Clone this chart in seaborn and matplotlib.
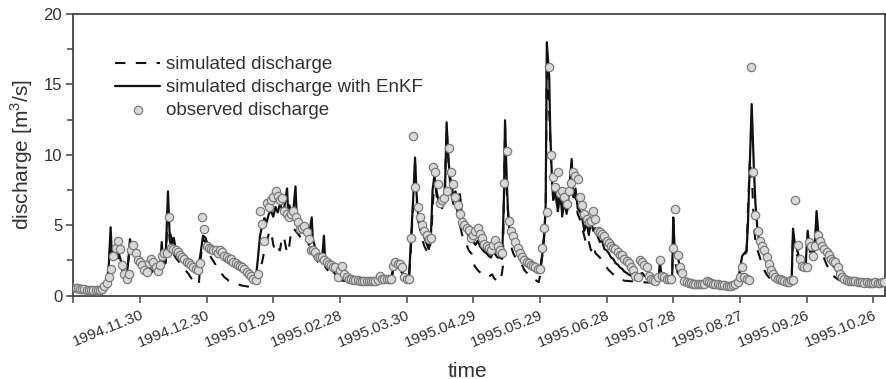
import numpy as np
import pandas as pd
import seaborn as sns
import matplotlib.pyplot as plt
from matplotlib.ticker import MultipleLocator

# ---------------- data (days since 1994-10-31) ----------------
obs_q = [
    0.55, 0.5, 0.5, 0.45, 0.45, 0.45, 0.4, 0.4, 0.4, 0.4,
    0.4, 0.4, 0.4, 0.45, 0.7, 0.9, 1.3, 1.85, 2.8, 3.4,
    3.85, 3.3, 2.2, 1.55, 1.2, 1.5, 3.25, 3.6, 3.0, 2.55,
    2.35, 2.2, 1.8, 1.7, 2.3, 2.6, 2.4, 2.0, 1.75, 2.2,
    2.8, 3.0, 3.0, 5.6, 3.4, 3.3, 3.2, 3.1, 2.9, 2.7,
    2.6, 2.4, 2.3, 2.2, 2.0, 1.9, 1.8, 2.3, 5.6, 4.75,
    3.55, 3.4, 3.3, 3.25, 3.2, 3.0, 3.2, 3.1, 2.8, 2.7,
    2.6, 2.6, 2.4, 2.3, 2.2, 2.1, 2.0, 1.9, 1.7, 1.5,
    1.4, 1.2, 1.1, 1.5, 6.0, 5.1, 3.9, 6.6, 6.3, 6.75,
    7.0, 7.45, 7.1, 6.75, 6.9, 6.0, 5.8, 5.55, 5.8, 6.0,
    5.55, 5.2, 4.7, 4.8, 4.95, 4.5, 4.0, 3.2, 3.2, 3.1,
    2.7, 2.7, 2.7, 2.5, 2.4, 2.25, 2.2, 2.0, 2.0, 1.3,
    1.8, 2.1, 1.55, 1.3, 1.2, 1.15, 1.1, 1.1, 1.1, 1.05,
    1.05, 1.05, 1.0, 1.0, 1.0, 1.0, 1.05, 1.1, 1.4, 1.2,
    1.15, 1.15, 1.2, 1.2, 2.1, 2.35, 2.25, 2.25, 2.0, 1.3,
    1.2, 1.2, 4.1, 11.3, 7.7, 6.3, 5.55, 5.0, 4.6, 4.3,
    4.0, 4.06, 9.1, 8.75, 7.9, 6.6, 6.8, 6.9, 7.4, 10.5,
    8.8, 7.9, 7.0, 6.4, 5.8, 5.2, 5.0, 4.8, 4.65, 4.1,
    4.3, 4.6, 4.8, 4.4, 4.1, 3.65, 3.5, 3.4, 3.2, 3.6,
    3.95, 3.55, 3.2, 3.0, 8.0, 10.3, 5.3, 4.6, 4.2, 3.8,
    3.4, 3.0, 2.7, 2.5, 2.4, 2.3, 2.2, 2.1, 2.0, 1.9,
    1.9, 3.4, 4.8, 5.9, 16.2, 10.0, 8.4, 7.7, 8.75, 7.3,
    7.45, 7.0, 6.5, 7.45, 8.0, 8.8, 8.5, 8.3, 7.0, 6.4,
    5.8, 5.45, 5.2, 5.3, 6.0, 5.45, 4.6, 4.5, 4.4, 4.2,
    3.9, 3.7, 3.55, 3.4, 3.3, 3.1, 2.9, 2.85, 2.6, 2.45,
    2.3, 2.0, 1.8, 1.4, 1.3, 2.5, 2.4, 2.2, 2.0, 1.4,
    1.2, 1.1, 1.05, 1.3, 2.5, 1.4, 1.3, 1.2, 1.2, 1.2,
    3.4, 6.15, 2.85, 2.0, 1.6, 1.0, 0.95, 0.9, 0.9, 0.85,
    0.85, 0.85, 0.8, 0.8, 0.85, 1.0, 0.95, 0.9, 0.85, 0.8,
    0.8, 0.75, 0.75, 0.75, 0.7, 0.7, 0.7, 0.75, 0.85, 0.95,
    1.3, 2.0, 1.3, 1.15, 1.1, 16.2, 8.8, 5.75, 4.6, 3.9,
    3.55, 3.2, 2.7, 2.25, 1.8, 1.55, 1.3, 1.2, 1.15, 1.1,
    1.0, 0.95, 0.95, 1.1, 1.1, 6.75, 3.6, 2.6, 2.1, 2.0,
    2.0, 3.8, 3.5, 2.8, 3.5, 4.3, 3.9, 3.5, 3.3, 3.1,
    2.85, 2.6, 2.45, 2.35, 2.0, 1.55, 1.3, 1.15, 1.1, 1.05,
    1.0, 1.0, 1.0, 0.95, 0.95, 0.95, 0.9, 0.95, 0.9, 0.9,
    0.9, 0.95, 0.9, 0.9, 0.95, 0.95,
]
obs_day = list(range(len(obs_q)))

enkf_day = [
    0, 14, 15, 16, 16.8, 17.4, 18, 19, 20, 21, 22, 23, 24, 24.8, 25.5, 26.2, 27, 28, 29, 30,
    31, 32, 33, 34, 35, 36, 37, 38, 39, 39.8, 40.5, 41.5, 42.6, 43.3, 44, 44.6, 45.2, 46, 47, 48,
    49, 50, 51, 52, 53, 54, 55, 56, 57.3, 58.4, 59.5, 60.5, 62, 64, 66, 68, 70, 72, 74, 76,
    78, 80, 81, 82, 83, 84, 85, 86, 87, 88, 89, 90, 91, 92, 93, 94, 95, 96.2, 96.7, 97.3,
    98, 99, 100, 100.5, 101, 102, 103, 104, 105, 106, 107.3, 107.8, 108.5, 109, 110, 111, 112, 112.8, 113.3, 114,
    115, 116, 117, 118, 119, 120, 121, 125, 137, 138, 139, 143, 144, 145, 147, 148, 149, 151, 152, 153,
    153.8, 154.5, 155, 156, 157, 158, 159, 160, 161, 161.7, 162.5, 163.5, 164.5, 165.5, 166.5, 167.3, 168, 168.8, 169.5, 170.3,
    171, 172, 173, 174, 175, 176, 177, 178, 179, 180, 181, 182, 183, 184, 185, 186, 187, 188, 189, 190,
    191, 192, 193, 193.8, 194.3, 195, 195.5, 196, 197, 198, 199, 200, 201, 202, 203, 204, 205, 206, 207, 208,
    209, 210, 211, 212, 212.6, 213.1, 214.2, 214.6, 215, 215.5, 216, 217, 218, 219, 220, 221, 222, 223, 224.3, 225,
    226, 227, 228, 229, 230, 231, 232, 233, 234, 235, 236, 237, 238, 239, 240, 241, 242, 243, 244, 245,
    246, 247, 248, 249, 250, 251, 252, 253, 254, 255, 256, 257, 258, 259, 262, 263.5, 264, 264.6, 266, 269.5,
    270, 270.6, 271.5, 272.5, 273.5, 274.5, 276, 280, 284, 285, 286, 290, 297, 299, 300, 301, 302, 303, 303.6, 305.3,
    306.3, 307, 308, 309, 310, 311, 312, 313, 314, 315, 317, 322, 323.3, 323.9, 324.6, 325.5, 326.5, 327.5, 328.5, 329.5,
    330.5, 331.2, 332, 333, 333.8, 334.5, 335.2, 336, 337, 338, 339, 340, 341, 342, 343, 344, 345, 346, 348, 355,
    365.3,
]
enkf_q = [
    0.5, 0.45, 0.9, 2.2, 4.85, 2.6, 3.2, 3.6, 3.2, 2.7, 2.1, 1.6, 1.4, 2.5, 4.0, 3.5, 3.2, 2.8, 2.5, 2.3,
    2.1, 1.9, 1.6, 2.3, 2.1, 1.9, 1.7, 1.6, 1.8, 3.8, 2.2, 2.3, 7.4, 4.5, 4.2, 3.6, 4.1, 3.4, 3.1, 2.9,
    2.6, 2.4, 2.3, 2.1, 2.0, 1.9, 1.8, 1.8, 3.0, 4.25, 4.1, 3.6, 3.2, 2.9, 2.8, 2.5, 2.3, 2.1, 1.9, 1.7,
    1.5, 1.3, 1.1, 1.0, 2.5, 4.2, 5.0, 5.5, 5.2, 5.8, 6.0, 5.6, 6.3, 5.9, 6.5, 6.1, 6.3, 7.6, 5.8, 6.4,
    5.9, 6.0, 7.75, 5.8, 5.5, 5.0, 4.7, 4.5, 4.6, 4.2, 5.55, 4.0, 3.6, 3.3, 3.0, 2.8, 2.7, 4.25, 2.6, 2.4,
    2.2, 1.9, 1.7, 1.5, 1.3, 1.2, 1.15, 1.1, 1.05, 1.5, 1.15, 1.1, 2.0, 2.4, 2.2, 1.8, 1.2, 1.05, 4.0, 7.0,
    9.8, 7.2, 6.0, 5.2, 4.6, 4.1, 3.7, 3.3, 4.5, 7.5, 8.5, 7.4, 6.6, 6.4, 6.9, 7.5, 12.3, 9.8, 8.4, 8.0,
    7.0, 7.4, 6.3, 7.2, 5.4, 4.8, 4.5, 4.2, 3.9, 3.8, 3.6, 3.9, 3.5, 3.3, 3.1, 3.0, 2.8, 2.7, 3.2, 2.9,
    2.7, 2.7, 2.6, 7.0, 12.45, 8.5, 6.5, 5.0, 4.2, 3.7, 3.3, 3.0, 2.7, 2.5, 2.3, 2.1, 2.0, 1.9, 1.8, 1.7,
    1.6, 1.8, 2.8, 4.5, 6.5, 18.0, 15.5, 12.0, 10.0, 8.0, 6.8, 7.8, 6.0, 7.6, 5.8, 7.0, 5.8, 7.2, 9.7, 7.0,
    7.6, 6.2, 6.0, 5.5, 4.6, 5.2, 4.3, 5.3, 4.6, 4.8, 4.2, 3.8, 3.9, 3.3, 3.2, 3.0, 2.7, 2.6, 2.3, 2.2,
    2.0, 1.9, 1.7, 1.6, 1.5, 1.4, 1.3, 1.2, 1.2, 1.5, 1.6, 1.4, 1.3, 1.2, 1.1, 1.3, 2.5, 1.5, 1.2, 1.2,
    5.55, 3.5, 3.0, 2.4, 1.8, 1.3, 1.0, 0.9, 0.85, 1.2, 1.0, 0.85, 0.8, 1.0, 1.8, 2.8, 3.0, 3.2, 5.0, 13.6,
    9.0, 6.5, 4.5, 3.7, 3.2, 2.8, 2.4, 2.0, 1.6, 1.3, 1.15, 1.0, 1.2, 4.75, 3.8, 3.4, 2.8, 2.3, 2.0, 2.0,
    4.6, 3.6, 3.2, 2.9, 3.8, 6.0, 4.6, 4.2, 3.5, 3.1, 2.8, 2.6, 2.3, 2.1, 1.9, 1.6, 1.4, 1.2, 1.05, 0.95,
    0.9,
]

sim_day = [
    0, 14, 15, 16, 16.8, 17.4, 18, 19, 20, 21, 22, 23, 24, 25.5, 26, 27, 28, 30, 32, 33,
    34, 35, 37, 39, 39.8, 40.5, 41.5, 42.6, 43.3, 44, 45, 46, 48, 50, 52, 54, 55, 56.5, 57.3, 58.4,
    59.5, 61, 62, 64, 66, 68, 70, 73, 76, 80, 82, 83, 84, 85, 86, 87, 88, 89, 90, 91,
    92, 93, 94, 95, 96.2, 97, 98, 99, 100, 101, 102, 103, 104, 105, 106, 107.3, 108, 109, 110, 111,
    112.8, 113.5, 115, 117, 119, 121, 125, 137, 138, 139, 143, 144, 146, 148, 149, 151, 152, 153.8, 155, 157,
    158, 159, 160, 161, 162, 163, 164, 166, 167, 168, 169, 170, 171, 172, 173, 174, 175, 176, 177, 178,
    179.3, 180.6, 182, 184, 186.7, 188.5, 189.5, 191.6, 192.5, 193.3, 193.8, 194.3, 195, 196, 197, 198, 199, 201, 203, 206,
    208.5, 209.5, 210, 211, 212, 212.6, 213.1, 214.2, 215, 216, 217, 218, 219, 220, 221, 222, 223, 224.3, 225, 226,
    227, 228, 229, 230, 231, 232, 233, 234, 235, 237, 239, 241, 243, 245, 248, 252, 260, 269.5, 270, 270.6,
    272, 273, 275, 285, 298, 299, 300, 301, 302, 303, 303.6, 304.5, 305.5, 306.3, 307, 308, 309, 310, 311, 312,
    313, 315, 317, 322, 323.3, 323.9, 324.6, 325.5, 326.5, 327.5, 328.5, 329.5, 330.5, 331.2, 332, 333, 333.8, 334.5, 335.2, 336,
    337, 338, 339, 340, 341, 342, 344, 346, 350, 365.3,
]
sim_q = [
    0.45, 0.45, 0.8, 2.0, 4.0, 2.8, 3.0, 3.2, 2.8, 2.3, 1.8, 1.4, 1.3, 3.7, 3.3, 2.9, 2.5, 2.1, 1.7, 1.5,
    2.0, 1.8, 1.5, 1.6, 3.2, 2.0, 2.2, 6.3, 4.0, 3.5, 3.0, 2.7, 2.3, 1.9, 1.5, 1.0, 0.85, 0.8, 2.6, 4.0,
    3.8, 3.1, 2.7, 2.2, 1.7, 1.3, 1.05, 0.85, 0.7, 0.6, 0.55, 0.9, 1.8, 2.4, 3.2, 3.8, 4.4, 4.6, 3.6, 3.1,
    3.4, 3.2, 4.2, 4.0, 3.0, 3.3, 4.5, 4.8, 4.6, 4.4, 4.2, 3.9, 3.8, 4.0, 3.6, 3.8, 2.9, 2.6, 2.4, 2.3,
    2.6, 2.0, 1.7, 1.4, 1.2, 1.05, 1.0, 0.95, 1.3, 1.0, 1.0, 1.8, 2.0, 1.6, 1.1, 1.0, 3.5, 9.3, 5.5, 4.0,
    3.5, 3.2, 3.0, 4.0, 7.0, 7.8, 6.5, 6.2, 7.0, 11.8, 9.0, 7.3, 6.5, 6.8, 5.8, 5.0, 4.3, 3.8, 3.6, 3.2,
    2.95, 2.1, 1.8, 1.5, 1.3, 1.5, 1.2, 0.95, 1.2, 2.0, 7.0, 12.0, 7.5, 5.0, 3.5, 3.0, 2.7, 2.5, 1.8, 1.3,
    1.05, 0.95, 1.4, 2.8, 4.3, 6.3, 16.5, 13.0, 9.5, 6.8, 7.5, 5.8, 7.3, 5.6, 6.8, 5.6, 7.0, 9.3, 6.8, 7.2,
    5.8, 5.4, 4.8, 4.2, 3.5, 3.8, 3.2, 3.6, 3.0, 2.7, 2.2, 1.8, 1.5, 1.3, 1.05, 1.0, 0.9, 0.95, 5.0, 2.5,
    1.6, 1.2, 1.0, 0.85, 0.75, 1.0, 1.7, 2.6, 2.9, 3.1, 6.0, 9.7, 8.0, 5.0, 3.8, 3.2, 2.7, 2.2, 1.8, 1.5,
    1.3, 1.1, 1.0, 0.9, 1.1, 4.5, 3.5, 3.0, 2.4, 2.0, 1.8, 1.8, 4.3, 3.3, 2.9, 2.6, 3.5, 5.7, 4.2, 3.6,
    3.0, 2.6, 2.2, 1.9, 1.6, 1.4, 1.15, 1.0, 0.95, 0.85,
]

tick_days = [0, 30, 60, 90, 120, 150, 180, 210, 240, 270, 300, 330, 360]
tick_labels = ["", "1994.11.30", "1994.12.30", "1995.01.29", "1995.02.28",
               "1995.03.30", "1995.04.29", "1995.05.29", "1995.06.28",
               "1995.07.28", "1995.08.27", "1995.09.26", "1995.10.26"]

sim_df = pd.DataFrame({"day": sim_day, "q": sim_q})
enkf_df = pd.DataFrame({"day": enkf_day, "q": enkf_q})
obs_df = pd.DataFrame({"day": obs_day, "q": obs_q})

# ---------------- plot ----------------
sns.set_theme(style="ticks")
plt.rcParams["font.family"] = ["Liberation Sans", "DejaVu Sans"]
plt.rcParams["mathtext.fontset"] = "custom"
plt.rcParams["mathtext.rm"] = "Liberation Sans"

TXT = "#333333"
fig = plt.figure(figsize=(8.87, 3.79), dpi=100)
ax = fig.add_axes([73.3 / 887, 1 - 295.5 / 379, (885 - 73.3) / 887, (295.5 - 14) / 379])

sns.lineplot(data=sim_df, x="day", y="q", ax=ax, color="#111111", lw=1.5,
             linestyle=(0, (5, 5)), estimator=None, sort=False,
             label="simulated discharge", zorder=2)
sns.lineplot(data=enkf_df, x="day", y="q", ax=ax, color="#111111", lw=1.6,
             estimator=None, sort=False,
             label="simulated discharge with EnKF", zorder=2)
sns.scatterplot(data=obs_df, x="day", y="q", ax=ax, s=36, color="#d8d8d8",
                edgecolor="#7c7c7c", linewidth=0.9, zorder=3,
                label="observed discharge")

ax.set_xlim(0, 365.3)
ax.set_ylim(0, 20)
ax.set_xticks(tick_days)
ax.set_xticklabels(tick_labels, rotation=22, ha="right", rotation_mode="anchor",
                   fontsize=11, color=TXT)
ax.yaxis.set_major_locator(MultipleLocator(5))
ax.yaxis.set_minor_locator(MultipleLocator(2.5))
ax.tick_params(axis="y", labelsize=12, labelcolor=TXT, direction="out",
               length=5, width=1.1, color="#444444", pad=3)
ax.tick_params(axis="y", which="minor", direction="out", length=4, width=1.1,
               color="#444444")
ax.tick_params(axis="x", direction="out", length=5, width=1.1, color="#444444", pad=4)
ax.tick_params(top=False, right=False)

for sp in ax.spines.values():
    sp.set_visible(True)
    sp.set_color("#444444")
    sp.set_linewidth(1.3)

ax.set_xlabel("time", fontsize=15, color=TXT)
ax.set_ylabel("discharge [m$^3$/s]", fontsize=15, color=TXT, labelpad=6)
ax.xaxis.set_label_coords(0.485, -0.235)

leg = ax.legend(loc="upper left", bbox_to_anchor=(0.0514, 0.850), frameon=False,
                fontsize=13.5, handlelength=2.4, handletextpad=0.3,
                labelspacing=0.31, borderpad=0, borderaxespad=0)
for t in leg.get_texts():
    t.set_color(TXT)

fig.savefig("out.png", dpi=100)
